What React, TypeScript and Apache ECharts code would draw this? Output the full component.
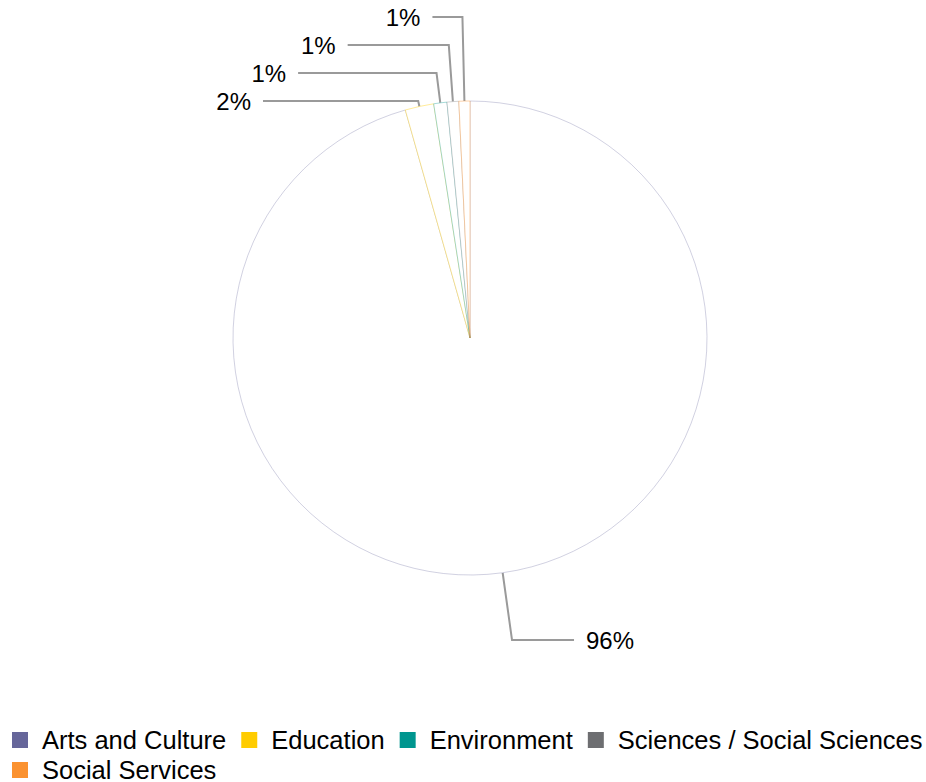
import React, { useEffect, useRef } from "react";
import * as echarts from "echarts";

const categories = ["Arts and Culture", "Education", "Environment", "Sciences / Social Sciences", "Social Services"];
const values = [95.6, 1.95, 0.9, 0.8, 0.75];
const colors = ["#66669a", "#ffcc00", "#00968f", "#6d6e71", "#fb9230"];
const borderColors = [
  "rgba(102,102,154,0.3)",
  "rgba(255,204,0,0.4)",
  "rgba(0,150,143,0.35)",
  "rgba(109,110,113,0.3)",
  "rgba(251,146,48,0.4)",
];

const FONT = "'Liberation Sans', Arial, Helvetica, sans-serif";
const CX = 470;
const CY = 338;
const LINE_LEN = [68, 84, 84, 84, 84];
const LINE_LEN2 = [62, 2, 2, 2, 30];

export default function App() {
  const ref = useRef<HTMLDivElement>(null);
  useEffect(() => {
    if (!ref.current) return;
    const chart = echarts.init(ref.current, undefined, { renderer: "svg" });
    const total = values.reduce((a, b) => a + b, 0);
    chart.setOption({
      animation: false,
      backgroundColor: "#ffffff",
      legend: {
        left: 12,
        width: 930,
        top: 727,
        padding: 0,
        itemGap: 4,
        itemWidth: 16,
        itemHeight: 16,
        icon: "rect",
        data: categories.map((c, i) => ({ name: c, itemStyle: { color: colors[i], borderWidth: 0 } })),
        textStyle: {
          fontFamily: FONT,
          fontSize: 25.5,
          lineHeight: 22,
          color: "#000",
          padding: [0, 11, 0, 9],
        },
      },
      series: [
        {
          type: "pie",
          center: [CX, CY],
          radius: 237,
          startAngle: 90,
          clockwise: true,
          avoidLabelOverlap: true,
          data: categories.map((c, i) => ({
            name: c,
            value: values[i],
            itemStyle: { color: "#ffffff", borderColor: borderColors[i], borderWidth: 1 },
            labelLine: { length: LINE_LEN[i], length2: LINE_LEN2[i] },
          })),
          label: {
            show: true,
            formatter: (p: any) => Math.round((p.value / total) * 100) + "%",
            fontFamily: FONT,
            fontSize: 24,
            lineHeight: 26,
            color: "#000",
            distanceToLabelLine: 12,
          },
          labelLine: {
            show: true,
            length: 62,
            length2: 60,
            lineStyle: { color: "#9a9a9a", width: 2 },
          },
          labelLayout: (params: any) => {
            const pts = params.labelLinePoints;
            if (!pts || pts.length < 3) return {};
            const p0 = pts[0];
            const p2 = pts[2];
            const dx = p0[0] - CX;
            const dy = p0[1] - CY;
            const t = dy !== 0 ? (p2[1] - p0[1]) / dy : 0;
            const bend = [p0[0] + dx * t, p2[1]];
            return { labelLinePoints: [p0, bend, p2] };
          },
          emphasis: { disabled: true },
        },
      ],
    });
    return () => chart.dispose();
  }, []);
  return (
    <div
      ref={ref}
      style={{ position: "fixed", left: 0, top: 0, width: 926, height: 782 }}
    />
  );
}
